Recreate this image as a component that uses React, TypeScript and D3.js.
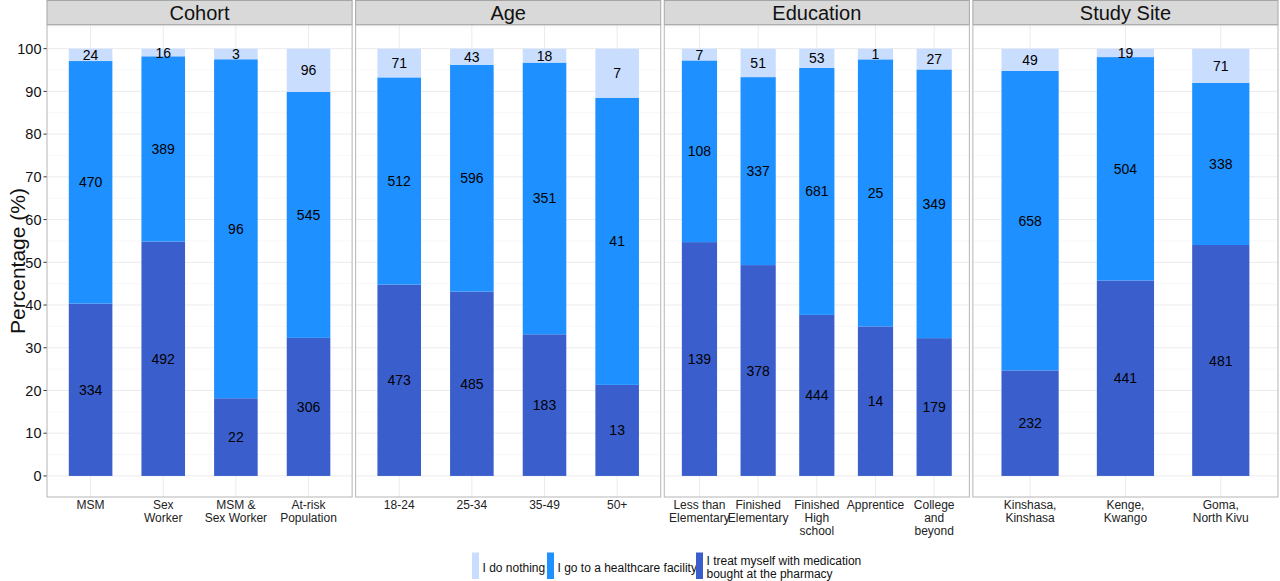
import * as d3 from 'd3';

// facets and their categories (multi-line labels split with \n)
const facets = ['Cohort', 'Age', 'Education', 'Study Site'];

const cohortCats = ['MSM', 'Sex\nWorker', 'MSM &\nSex Worker', 'At-risk\nPopulation'];
const ageCats = ['18-24', '25-34', '35-49', '50+'];
const educationCats = ['Less than\nElementary', 'Finished\nElementary', 'Finished\nHigh\nschool', 'Apprentice', 'College\nand\nbeyond'];
const siteCats = ['Kinshasa,\nKinshasa', 'Kenge,\nKwango', 'Goma,\nNorth Kivu'];

// counts per response
const nothingCounts = [
  [24, 16, 3, 96],
  [71, 43, 18, 7],
  [7, 51, 53, 1, 27],
  [49, 19, 71],
];
const facilityCounts = [
  [470, 389, 96, 545],
  [512, 596, 351, 41],
  [108, 337, 681, 25, 349],
  [658, 504, 338],
];
const pharmacyCounts = [
  [334, 492, 22, 306],
  [473, 485, 183, 13],
  [139, 378, 444, 14, 179],
  [232, 441, 481],
];

const yTicks = [0, 10, 20, 30, 40, 50, 60, 70, 80, 90, 100];

const keys = ['pharmacy', 'facility', 'nothing'] as const;
const COLORS: Record<string, string> = {
  nothing: '#c9ddff',
  facility: '#1e90ff',
  pharmacy: '#3a5fcd',
};
const legendItems = [
  { key: 'nothing', lines: ['I do nothing'] },
  { key: 'facility', lines: ['I go to a healthcare facility'] },
  { key: 'pharmacy', lines: ['I treat myself with medication', 'bought at the pharmacy'] },
];

const W = 1280;
const H = 581;
const FONT = '"Liberation Sans", Arial, Helvetica, sans-serif';

const plotLeft = 47;
const plotRight = 1278;
const gap = 3.5;
const stripTop = 0.5;
const stripBottom = 24.5;
const panelTop = 25;
const panelBottom = 497;

export default function App() {
  const catsList = [cohortCats, ageCats, educationCats, siteCats];
  const panelW = (plotRight - plotLeft - gap * (facets.length - 1)) / facets.length;

  const y = d3.scaleLinear().domain([-5, 105]).range([497.3, 27.3]);
  const minorTicks = d3.range(-5, 106, 10).filter((v) => v > -5);

  const legendX = [472, 547, 696];

  return (
    <svg
      width={W}
      height={H}
      viewBox={`0 0 ${W} ${H}`}
      style={{ position: 'absolute', left: 0, top: 0, background: '#fff', fontFamily: FONT }}
    >
      {/* y axis title */}
      <text
        transform={`translate(25,${(panelTop + panelBottom) / 2}) rotate(-90)`}
        textAnchor="middle"
        fontSize={21}
        fill="#111"
      >
        Percentage (%)
      </text>

      {/* y ticks */}
      {yTicks.map((t) => (
        <g key={t}>
          <line x1={43.5} x2={plotLeft} y1={y(t)} y2={y(t)} stroke="#333" strokeWidth={1} />
          <text x={41.5} y={y(t)} dy="0.36em" textAnchor="end" fontSize={14.5} fill="#111">
            {t}
          </text>
        </g>
      ))}

      {facets.map((facet, fi) => {
        const cats = catsList[fi];
        const x0 = plotLeft + fi * (panelW + gap);
        const x = d3
          .scaleBand<string>()
          .domain(cats)
          .range([x0, x0 + panelW])
          .paddingInner(0.4)
          .paddingOuter(0.3);

        const rows = cats.map((c, i) => ({
          cat: c,
          nothing: nothingCounts[fi][i],
          facility: facilityCounts[fi][i],
          pharmacy: pharmacyCounts[fi][i],
        }));
        const series = d3
          .stack<any>()
          .keys(keys as unknown as string[])
          .offset(d3.stackOffsetExpand)(rows);

        return (
          <g key={facet}>
            {/* strip */}
            <rect
              x={x0}
              y={stripTop}
              width={panelW}
              height={stripBottom - stripTop}
              fill="#d9d9d9"
              stroke="#a6a6a6"
              strokeWidth={1}
            />
            <text x={x0 + panelW / 2} y={19.5} textAnchor="middle" fontSize={20} fill="#111">
              {facet}
            </text>

            {/* panel background */}
            <rect x={x0} y={panelTop} width={panelW} height={panelBottom - panelTop} fill="#fff" />

            {/* grid */}
            {minorTicks.map((t) => (
              <line
                key={'m' + t}
                x1={x0}
                x2={x0 + panelW}
                y1={y(t)}
                y2={y(t)}
                stroke="#f3f3f3"
                strokeWidth={0.6}
              />
            ))}
            {yTicks.map((t) => (
              <line
                key={'g' + t}
                x1={x0}
                x2={x0 + panelW}
                y1={y(t)}
                y2={y(t)}
                stroke="#ebebeb"
                strokeWidth={1}
              />
            ))}
            {cats.map((c) => (
              <line
                key={'v' + c}
                x1={x(c)! + x.bandwidth() / 2}
                x2={x(c)! + x.bandwidth() / 2}
                y1={panelTop}
                y2={panelBottom}
                stroke="#ebebeb"
                strokeWidth={1}
              />
            ))}

            {/* bars */}
            {series.map((s) =>
              s.map((d, i) => (
                <rect
                  key={s.key + i}
                  x={x(cats[i])}
                  y={y(d[1] * 100)}
                  width={x.bandwidth()}
                  height={y(d[0] * 100) - y(d[1] * 100)}
                  fill={COLORS[s.key]}
                />
              ))
            )}

            {/* count labels */}
            {series.map((s) =>
              s.map((d, i) => (
                <text
                  key={'l' + s.key + i}
                  x={x(cats[i])! + x.bandwidth() / 2}
                  y={y(((d[0] + d[1]) / 2) * 100)}
                  dy="0.36em"
                  textAnchor="middle"
                  fontSize={14}
                  fill="#000"
                >
                  {(d.data as any)[s.key]}
                </text>
              ))
            )}

            {/* panel border */}
            <rect
              x={x0}
              y={panelTop}
              width={panelW}
              height={panelBottom - panelTop}
              fill="none"
              stroke="#b5b5b5"
              strokeWidth={1}
            />

            {/* x labels */}
            {cats.map((c) => (
              <text
                key={'x' + c}
                x={x(c)! + x.bandwidth() / 2}
                y={509}
                textAnchor="middle"
                fontSize={12}
                fill="#222"
              >
                {c.split('\n').map((line, li) => (
                  <tspan key={li} x={x(c)! + x.bandwidth() / 2} dy={li === 0 ? 0 : 12.8}>
                    {line}
                  </tspan>
                ))}
              </text>
            ))}
          </g>
        );
      })}

      {/* legend */}
      {legendItems.map((item, i) => (
        <g key={item.key}>
          <rect x={legendX[i]} y={552.5} width={7} height={26.5} fill={COLORS[item.key]} />
          {item.lines.map((line, li) => (
            <text
              key={li}
              x={legendX[i] + 10.5}
              y={item.lines.length === 1 ? 571.5 : 565 + li * 13.3}
              fontSize={12}
              fill="#111"
            >
              {line}
            </text>
          ))}
        </g>
      ))}
    </svg>
  );
}
